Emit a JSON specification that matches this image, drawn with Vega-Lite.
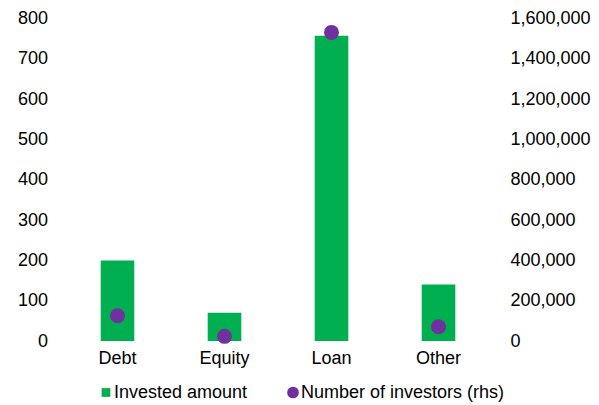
{
  "$schema": "https://vega.github.io/schema/vega-lite/v6.json",
  "width": 428,
  "height": 322.5,
  "autosize": {"type": "none"},
  "padding": {"left": 64, "top": 18.5, "right": 107, "bottom": 64},
  "background": "white",
  "config": {
    "view": {"stroke": null},
    "font": "Liberation Sans",
    "axis": {"labelFont": "Liberation Sans", "labelFontSize": 18, "labelColor": "#000000", "grid": false, "domain": false, "ticks": false, "title": null},
    "legend": {"labelFont": "Liberation Sans", "labelFontSize": 18, "labelColor": "#000000"}
  },
  "data": {
    "values": [
      {"category": "Debt", "series": "Invested amount", "value": 200},
      {"category": "Equity", "series": "Invested amount", "value": 70},
      {"category": "Loan", "series": "Invested amount", "value": 757},
      {"category": "Other", "series": "Invested amount", "value": 140},
      {"category": "Debt", "series": "Number of investors (rhs)", "value": 125000},
      {"category": "Equity", "series": "Number of investors (rhs)", "value": 23000},
      {"category": "Loan", "series": "Number of investors (rhs)", "value": 1531000},
      {"category": "Other", "series": "Number of investors (rhs)", "value": 71000}
    ]
  },
  "encoding": {
    "x": {
      "field": "category",
      "type": "nominal",
      "sort": ["Debt", "Equity", "Loan", "Other"],
      "scale": {"paddingInner": 0.686, "paddingOuter": 0.343},
      "axis": {"labelAngle": 0, "labelPadding": 8}
    },
    "color": {
      "field": "series",
      "type": "nominal",
      "scale": {"domain": ["Invested amount", "Number of investors (rhs)"], "range": ["#00B050", "#7030A0"]},
      "legend": {
        "title": null,
        "orient": "none",
        "direction": "horizontal",
        "legendX": 33,
        "legendY": 365,
        "padding": 0,
        "columnPadding": 36,
        "labelOffset": -1,
        "labelLimit": 400,
        "symbolSize": 137,
        "symbolOpacity": 1,
        "symbolStrokeWidth": 0,
        "encode": {
          "symbols": {
            "update": {
              "shape": {"signal": "datum.value === 'Invested amount' ? 'square' : 'circle'"},
              "size": {"signal": "datum.value === 'Invested amount' ? 76 : 137"}
            }
          }
        }
      }
    }
  },
  "layer": [
    {
      "transform": [{"filter": "datum.series === 'Invested amount'"}],
      "mark": {"type": "bar"},
      "encoding": {
        "y": {
          "field": "value",
          "type": "quantitative",
          "scale": {"domain": [0, 800], "nice": false},
          "axis": {"orient": "left", "values": [0, 100, 200, 300, 400, 500, 600, 700, 800], "labelPadding": 16.5}
        }
      }
    },
    {
      "transform": [{"filter": "datum.series === 'Number of investors (rhs)'"}],
      "mark": {"type": "circle", "size": 225, "opacity": 1},
      "encoding": {
        "y": {
          "field": "value",
          "type": "quantitative",
          "scale": {"domain": [0, 1600000], "nice": false},
          "axis": {"orient": "right", "values": [0, 200000, 400000, 600000, 800000, 1000000, 1200000, 1400000, 1600000], "format": ",d", "labelPadding": 18, "labelAlign": "left"}
        }
      }
    }
  ],
  "resolve": {"scale": {"y": "independent"}}
}
